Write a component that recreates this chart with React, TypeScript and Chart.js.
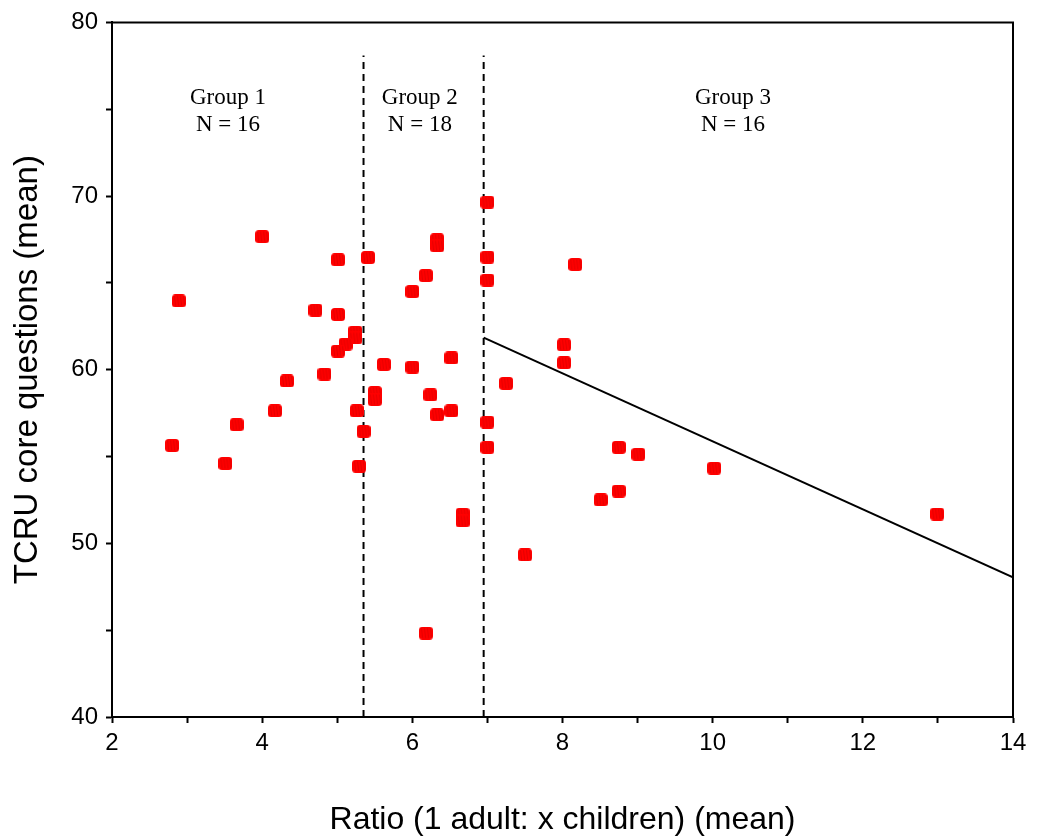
import React, { useEffect, useRef } from 'react';
import { Chart, registerables } from 'chart.js';

Chart.register(...registerables);

// ---- Data ----
const ratioX = [
  4.0, 5.01, 5.41, 2.89, 4.71, 5.01, 5.24, 5.24, 5.11, 5.01,
  5.62, 4.83, 5.5, 5.5, 4.33, 4.17, 5.26, 3.66, 5.35, 2.8,
  3.51, 5.29, 7.0, 6.33, 6.33, 7.0, 7.0, 6.18, 6.0, 6.52,
  6.0, 7.25, 6.24, 6.33, 6.52, 7.0, 7.0, 6.67, 6.67, 7.5,
  6.18, 8.17, 8.02, 8.02, 8.75, 8.51, 8.75, 9.01, 10.02, 12.99,
];
const tcruMean = [
  67.66, 66.33, 66.46, 63.96, 63.43, 63.18, 62.17, 61.83, 61.47, 61.07,
  60.3, 59.75, 58.68, 58.28, 59.35, 57.63, 57.63, 56.83, 56.45, 55.64,
  54.6, 54.44, 69.65, 67.48, 67.13, 66.48, 65.16, 65.42, 64.5, 60.68,
  60.15, 59.21, 58.55, 57.4, 57.63, 56.98, 55.53, 51.68, 51.29, 49.33,
  44.83, 66.06, 61.43, 60.4, 55.53, 52.5, 53.01, 55.13, 54.33, 51.69,
];
const dividerX = [5.35, 6.95];
const dividerYRange = [40, 78.1];
const regressionX = [6.95, 14];
const regressionY = [61.85, 48.04];

const xTickLabels = ['2', '4', '6', '8', '10', '12', '14'];
const yTickLabels = ['40', '50', '60', '70', '80'];

const groupNames = ['Group 1', 'Group 2', 'Group 3'];
const groupCounts = ['N = 16', 'N = 18', 'N = 16'];
const groupLabelX = [3.545, 6.1, 10.27];
const groupNameY = 75.67;
const groupCountY = 74.1;

const xTitle = 'Ratio (1 adult: x children) (mean)';
const yTitle = 'TCRU core questions (mean)';

const SANS = '"Liberation Sans", Arial, Helvetica, sans-serif';
const SERIF = '"Liberation Serif", "Times New Roman", serif';

export default function App() {
  const ref = useRef<HTMLCanvasElement | null>(null);

  useEffect(() => {
    document.body.style.margin = '0';
    document.body.style.overflow = 'hidden';
    const canvas = ref.current;
    if (!canvas) return;

    const marker = document.createElement('canvas');
    marker.width = 14;
    marker.height = 13;
    const mc = marker.getContext('2d')!;
    mc.fillStyle = '#ff0000';
    mc.beginPath();
    (mc as any).roundRect(0, 0, 14, 13, 3.5);
    mc.fill();
    mc.strokeStyle = 'rgba(180,0,0,0.35)';
    mc.lineWidth = 1;
    for (let i = 2.5; i < 13; i += 3) {
      mc.beginPath();
      mc.moveTo(i, 1.5);
      mc.lineTo(i + 1.2, 11.5);
      mc.stroke();
    }

    const framePlugin = {
      id: 'frameAndLabels',
      afterDraw(chart: any) {
        const { ctx, chartArea, scales } = chart;
        const { left, right, top, bottom } = chartArea;
        ctx.save();
        ctx.strokeStyle = '#000';
        ctx.lineWidth = 2;
        ctx.beginPath();
        ctx.moveTo(left - 1, top);
        ctx.lineTo(right, top);
        ctx.lineTo(right, bottom + 1);
        ctx.stroke();
        ctx.fillStyle = '#000';
        ctx.font = `23px ${SERIF}`;
        ctx.textAlign = 'center';
        ctx.textBaseline = 'middle';
        groupLabelX.forEach((gx, i) => {
          const px = scales.x.getPixelForValue(gx);
          ctx.fillText(groupNames[i], px, scales.y.getPixelForValue(groupNameY));
          ctx.fillText(groupCounts[i], px, scales.y.getPixelForValue(groupCountY));
        });
        ctx.restore();
      },
    };

    const lineDs = (xs: number[], ys: number[], dash: number[]) => ({
      data: xs.map((x, i) => ({ x, y: ys[i] })),
      showLine: true,
      borderColor: '#000',
      borderWidth: 2,
      borderDash: dash,
      pointRadius: 0,
      fill: false,
    });

    const chart = new Chart(canvas, {
      type: 'scatter',
      data: {
        datasets: [
          {
            data: ratioX.map((x, i) => ({ x, y: tcruMean[i] })),
            pointStyle: marker as any,
            pointRadius: 7,
            showLine: false,
          } as any,
          lineDs([dividerX[0], dividerX[0]], dividerYRange, [7, 5]),
          lineDs([dividerX[1], dividerX[1]], dividerYRange, [7, 5]),
          lineDs(regressionX, regressionY, []),
        ],
      },
      options: {
        animation: false,
        responsive: false,
        devicePixelRatio: 1,
        layout: { padding: { top: 19, right: 26, left: 0, bottom: 0 } },
        plugins: { legend: { display: false }, tooltip: { enabled: false } },
        scales: {
          x: {
            type: 'linear',
            min: 2,
            max: 14,
            ticks: {
              stepSize: 1,
              autoSkip: false,
              maxRotation: 0,
              color: '#000',
              padding: 6,
              font: { family: SANS, size: 24 },
              callback: (v: any) => (xTickLabels.includes(String(v)) ? String(v) : ''),
            },
            grid: { drawOnChartArea: false, drawTicks: true, tickLength: 6, tickColor: '#000', tickWidth: 2 },
            border: { display: true, color: '#000', width: 2 },
            title: {
              display: true,
              text: xTitle,
              color: '#000',
              font: { family: SANS, size: 32 },
              padding: { top: 0, bottom: 1 },
            },
            afterFit: (s: any) => {
              s.height = 123;
            },
          },
          y: {
            type: 'linear',
            min: 40,
            max: 80,
            ticks: {
              stepSize: 5,
              autoSkip: false,
              color: '#000',
              padding: 8,
              font: { family: SANS, size: 24 },
              callback: (v: any) => (yTickLabels.includes(String(v)) ? String(v) : ''),
            },
            grid: { drawOnChartArea: false, drawTicks: true, tickLength: 6, tickColor: '#000', tickWidth: 2 },
            border: { display: true, color: '#000', width: 2 },
            title: {
              display: true,
              text: yTitle,
              color: '#000',
              font: { family: SANS, size: 33 },
              padding: { top: 8, bottom: 0 },
            },
            afterFit: (s: any) => {
              s.width = 112;
            },
          },
        },
      } as any,
      plugins: [framePlugin],
    });

    return () => chart.destroy();
  }, []);

  return <canvas ref={ref} width={1039} height={840} style={{ display: 'block' }} />;
}
